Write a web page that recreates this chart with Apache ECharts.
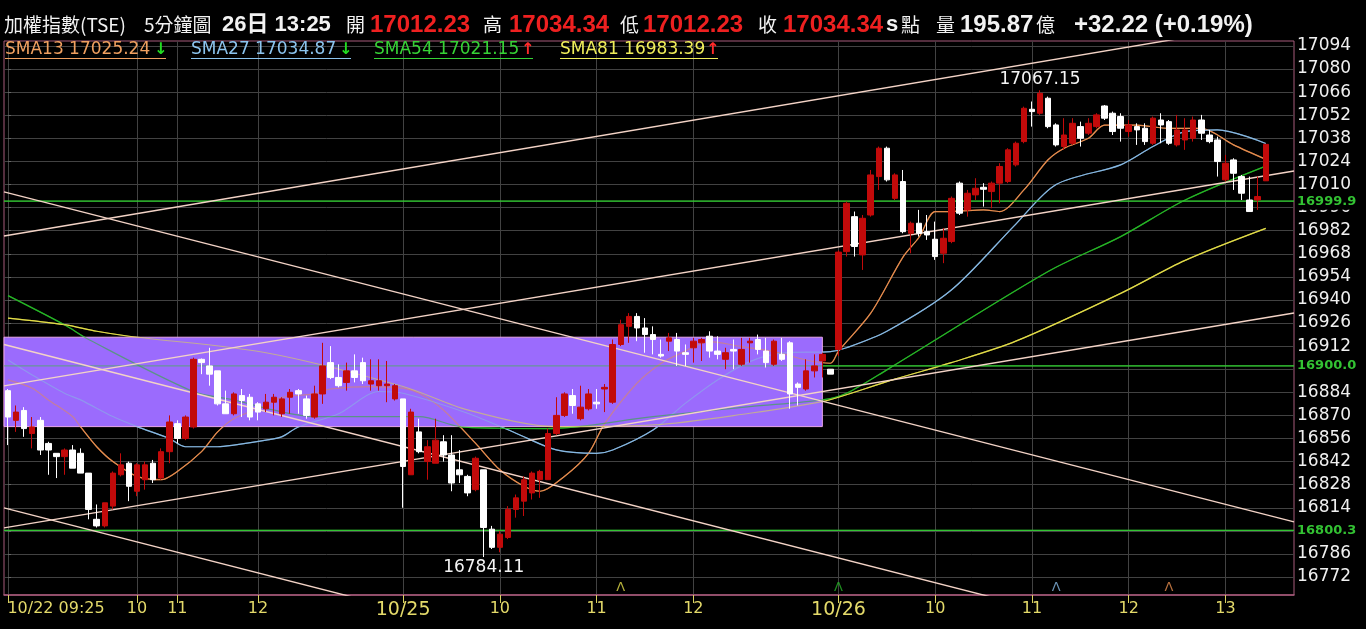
<!DOCTYPE html>
<html><head><meta charset="utf-8">
<script src="https://cdn.jsdelivr.net/npm/echarts@6/dist/echarts.min.js"></script>
<style>html,body{margin:0;padding:0;background:#000;}#c{width:1366px;height:629px;}</style>
</head><body><div id="c"></div>
<script>
// ---------- data ----------
const sessions = [['10/22', '09:25', 49], ['10/25', '09:00', 54], ['10/26', '09:00', 54]];
const padBars = 3;
const categories = [];
sessions.forEach(([d, t, n]) => {
  let [h, m] = t.split(':').map(Number);
  for (let k = 0; k < n; k++) {
    categories.push(d + ' ' + String(h).padStart(2, '0') + ':' + String(m).padStart(2, '0'));
    m += 5; if (m >= 60) { m -= 60; h += 1; }
  }
});
for (let k = 0; k < padBars; k++) categories.push('');

const opens = [16885,16867,16873,16859,16867,16853,16847,16845,16849,16847,16835,16807,16803,16815,16834,16841,16824,16831,16841,16832,16848,16865,16856,16863,16904,16900,16897,16877,16871,16882,16881,16877,16874,16878,16871,16881,16885,16880,16869,16883,16902,16893,16890,16897,16902,16889,16888,16888,16880,
16880,16834,16860,16842,16841,16854,16846,16837,16833,16825,16837,16801,16790,16796,16813,16818,16823,16831,16831,16859,16870,16882,16868,16874,16878,16886,16878,16913,16924,16930,16923,16919,16907,16915,16916,16908,16911,16914,16918,16909,16904,16910,16901,16914,16916,16909,16901,16907,16914,16889,16886,16897,16903,16898,
16910,16969.3,16990.5,16967.3,16991.5,17014.8,17032,17001.6,17011.8,16980.4,16986.5,16981.4,16976.8,16968.3,16975.4,17010.8,16994.6,17003.7,17008.3,17005.7,17010.8,17011.8,17021.9,17036,17055.6,17053.2,17062.3,17046.1,17033,17035,17045.1,17041.1,17045.1,17057.6,17053.2,17051.2,17042.1,17045.1,17044.1,17035,17049.1,17048.1,17034,17037,17038,17049.1,17040,17037,17012.8,17024.9,17014.8,17000.6,17000.6,17012.23];
const closes = [16869,16872,16862,16863,16849,16849,16845,16849,16838,16835,16813,16803,16817,16835,16840,16827,16840,16840,16831,16848,16866,16856,16869,16904,16902,16895,16877,16871,16883,16879,16869,16872,16878,16881,16880,16884,16883,16870,16883,16900,16893,16888,16897,16893,16891,16891,16891,16889,16888,
16839,16872,16848,16851,16855,16846,16829,16834,16823,16844,16802,16790,16798,16813,16820,16831,16835,16836,16859,16870,16883,16876,16875,16883,16877,16887,16913,16925,16930,16923,16919,16916,16906,16917,16909,16907,16915,16916,16909,16907,16908,16909,16910,16915,16910,16902,16915,16904,16883,16887,16897,16900,16907,16895,
16969,16998.6,16972.4,16989.5,17015.8,17032,17012.8,17015.8,16981.4,16986.5,16980.4,16979.4,16966.3,16977.4,17001.6,16992.6,17004.7,17007.7,17007.1,17010.8,17020.9,17031,17035,17056.2,17054.2,17065.3,17045.1,17034,17040,17047.1,17038,17047.1,17052.2,17050.2,17042.1,17044.1,17046.1,17043.1,17036,17050.2,17046.1,17035,17043.1,17043.1,17049.1,17041.1,17036,17023.9,17022.9,17016.8,17004.7,16993.6,17002.7,17034.34];
const lows = [16852,16860,16857,16850,16846,16834,16832,16834,16838,16835,16807,16802,16802,16813,16833,16818,16821,16825,16829,16831,16841,16853,16855,16862,16895,16888,16876,16871,16870,16869,16867,16867,16872,16870,16869,16871,16871,16868,16868,16877,16892,16887,16885,16890,16889,16885,16885,16878,16879,
16814,16834,16847,16831,16841,16842,16824,16829,16821,16824,16784.11,16789,16787,16795,16808,16809,16819,16820,16831,16858,16869,16871,16867,16873,16874,16872,16877,16912,16914,16915,16908,16907,16905,16909,16900,16900,16902,16903,16905,16904,16898,16898,16900,16902,16907,16899,16900,16903,16874,16876,16885,16893,16893,16895,
16906,16966.3,16966.3,16958.2,16990.5,17006.7,17011.8,17000.6,16980.4,16968.3,16978.4,16976.4,16964.3,16962.3,16974.4,16991.5,16990.5,17000.6,16996.6,16995.6,16998.6,17010.8,17020.9,17035,17045.1,17052.2,17044.1,17033,17031,17034,17033,17040,17044.1,17049.1,17040,17036,17039,17034,17034,17034,17035,17034,17033,17031,17036,17037,17035,17014.8,17011.8,17006.7,17000.6,16993.6,16994.6,17012.23];
const highs = [16886,16876,16875,16869,16869,16854,16847,16850,16852,16850,16835,16816,16817,16836,16847,16842,16841,16842,16843,16850,16870,16867,16870,16905,16904.5,16911,16897,16885,16884,16886,16883,16878,16883,16883,16881,16886,16886,16882,16888,16914,16912,16901,16902,16907,16905,16904,16904,16903,16889,
16880,16874,16868,16855,16868,16858,16858,16849,16834,16845,16837,16803,16800,16815,16822,16833,16836,16837,16862,16881,16884,16886,16888,16886,16886,16889,16916,16928,16932,16932,16929,16924,16916,16920,16920,16913,16917,16917,16921,16918,16911,16916,16917,16917,16919,16917,16916,16917,16915,16890,16904,16907,16908,16898,
16970,16999.6,16993.6,16991.5,17018.8,17033,17033,17016.8,17018.8,16987.5,16994.6,16991.5,16987.5,16983.5,17002.7,17011.8,17006.7,17013.8,17010.8,17011.8,17022.9,17032,17036,17057.2,17060.3,17067.15,17063.3,17047.1,17050.2,17050.2,17048.1,17050.2,17053.2,17058.2,17054.2,17053.2,17049.1,17047.1,17047.1,17051.2,17053.2,17049.1,17052.2,17050.2,17051.2,17052.2,17043.1,17039,17027.9,17025.9,17015.8,17014.8,17014.8,17034.34];

// moving averages: [bar index, value]
const sma13 = [[0,16891.5],[3,16886.5],[5,16879.4],[8,16869.3],[9,16863],[11,16851],[13,16842],[16,16833],[19,16831],[21,16836],[24,16848],[26,16860],[28,16868],[32,16876],[34,16881],[38,16883],[40,16886],[45,16887.5],[49,16886.5],[51,16883.4],[54,16873.3],[58,16853],[61,16837],[64,16827],[66,16824],[69,16833],[72,16847],[74,16865],[78,16889.5],[81,16901.6],[83,16906.6],[87,16914.7],[91,16911.7],[95,16908.7],[99,16903.6],[102,16901.6],[103,16909],[107,16932],[111,16966],[113,16978],[115,16993.6],[117,16993.6],[121,16994.6],[123,16993.6],[126,17006.7],[129,17025],[131,17032],[134,17038],[136,17046],[140,17046],[144,17044],[148,17044],[152,17034],[156,17025.24]];
const sma27 = [[0,16903.6],[3,16894.5],[7,16883.4],[9,16879.4],[13,16869.3],[16,16863.2],[20,16856],[22,16851],[26,16851],[28,16852],[32,16855],[34,16857.1],[36,16863],[41,16871],[46,16884.5],[49,16883.4],[57,16871.3],[63,16859.2],[68,16849.1],[73,16847],[75,16849],[80,16861.2],[84,16877.3],[88,16891.5],[92,16902.6],[96,16907.7],[102,16908.7],[104,16911],[109,16921],[117,16946],[125,16986],[130,17010],[138,17021.9],[142,17033],[146,17042.1],[150,17043.1],[156,17034.87]];
const sma54 = [[0,16942.6],[7,16924.9],[10,16916],[23,16884.4],[28,16879.4],[32,16874.3],[38,16869.2],[51,16869.2],[56,16863.2],[61,16862.2],[67,16862],[80,16869.3],[92,16875.3],[101,16879.4],[104,16883.4],[109,16897.6],[129,16957.2],[138,16978.4],[146,17000.6],[156,17021.15]];
const sma81 = [[0,16929],[7,16925],[11,16921],[15,16918],[32,16908],[49,16887.5],[57,16873.3],[68,16863.2],[80,16864.2],[92,16871.3],[101,16878.4],[103,16881],[110,16892],[117,16902],[125,16915],[138,16944],[146,16964],[156,16983.39]];

const maNames = ['SMA13', 'SMA27', 'SMA54', 'SMA81'];
const maColors = ['#e58c4e', '#86b8e2', '#26b526', '#e2dc48'];
const maLegendColors = ['#f0a060', '#8cc4ee', '#36d336', '#f0ee5a'];
const maLastText = ['17025.24', '17034.87', '17021.15', '16983.39'];
const maTrendUp = [false, false, true, true];
const maWindowStart = [144, 130, 103, 76];

// price zone (purple box): [from bar, to bar, low, high]
const zone = [[-0.5, 101, 16863.2, 16917.4]];
// key horizontal levels
const levels = [16999.9, 16900.0, 16800.3];
// trend lines: [bar0, value0, bar1, value1]
const trendLines = [
  [-0.5, 16978.8, 159.5, 17110.2],
  [-0.5, 16887.9, 159.5, 17018.2],
  [-0.5, 16801.8, 159.5, 16932.1],
  [-0.5, 17005.5, 159.5, 16805.4],
  [-0.5, 16913.0, 159.5, 16712.9],
  [-0.5, 16813.9, 159.5, 16613.8]
];
const highMark = [128, 17067.15];
const lowMark = [59, 16784.11];

const xTickIdx = [0, 16, 21, 31, 49, 61, 73, 85, 103, 115, 127, 139, 151];
const xTickText = ['10/22 09:25', '10', '11', '12', '10/25', '10', '11', '12', '10/26', '10', '11', '12', '13'];
const yTicks = [16772,16786,16800,16814,16828,16842,16856,16870,16884,16898,16912,16926,16940,16954,16968,16982,16996,17010,17024,17038,17052,17066,17080,17094];

// ---------- chart ----------
const chart = echarts.init(document.getElementById('c'));
const candleData = opens.map((o, i) => [o, closes[i], lows[i], highs[i]]);
const maData = [sma13, sma27, sma54, sma81];

const series = [];
// MA lines under the zone
maData.forEach((d, k) => series.push({
  type: 'line', name: maNames[k] + '_u', xAxisIndex: 1, yAxisIndex: 0, data: d, showSymbol: false, smooth: 0.3,
  lineStyle: { color: maColors[k], width: 1.2 }, z: 1, silent: true
}));
levels.forEach(v => series.push({
  type: 'line', xAxisIndex: 1, data: [[-0.5, v], [159.5, v]], showSymbol: false,
  lineStyle: { color: '#33c433', width: 1.3 }, z: 1, silent: true
}));
// zone box
series.push({
  type: 'custom', xAxisIndex: 1, yAxisIndex: 0, data: zone, z: 2, silent: true,
  encode: { x: [0, 1], y: [2, 3] },
  renderItem: (params, api) => {
    const p0 = api.coord([api.value(0), api.value(3)]);
    const p1 = api.coord([api.value(1), api.value(2)]);
    return { type: 'rect', shape: { x: p0[0], y: p0[1], width: p1[0] - p0[0], height: p1[1] - p0[1] },
      style: { fill: '#9b6bfd', stroke: '#eaa6ee', lineWidth: 1 } };
  }
});
// MA lines and levels blended over the zone
maData.forEach((d, k) => series.push({
  type: 'line', name: maNames[k], xAxisIndex: 1, yAxisIndex: 0, data: d, showSymbol: false, smooth: 0.3,
  lineStyle: { color: maColors[k], width: 1.2, opacity: 0.55 }, z: 3, silent: true
}));
levels.forEach((v, k) => series.push({
  type: 'line', xAxisIndex: 1, data: [[-0.5, v], [159.5, v]], showSymbol: false,
  lineStyle: { color: '#33c433', width: 1.3, opacity: 0.5 }, z: 3, silent: true,
  markLine: k === 0 ? {
    silent: true, symbol: 'none', animation: false,
    lineStyle: { color: 'rgba(0,0,0,0)', width: 0 },
    label: { show: true, position: 'end', distance: 2, color: '#33c233', fontSize: 13, fontWeight: 'bold',
      fontFamily: 'DejaVu Sans', backgroundColor: '#000', padding: [2, 1, 2, 1],
      formatter: p => Number(p.value).toFixed(1) },
    data: levels.map(l => ({ yAxis: l }))
  } : undefined
}));
// trend lines
trendLines.forEach(t => series.push({
  type: 'line', xAxisIndex: 1, data: [[t[0], t[1]], [t[2], t[3]]], showSymbol: false,
  lineStyle: { color: '#f3d3c6', width: 1.4 }, z: 4, silent: true, clip: true
}));
// candles
series.push({
  type: 'candlestick', xAxisIndex: 0, yAxisIndex: 0, data: candleData, barWidth: 6, z: 5,
  itemStyle: { color: '#c20a0a', color0: '#ffffff', borderColor: '#c20a0a', borderColor0: '#ffffff', borderWidth: 1 },
  markPoint: {
    symbol: 'circle', symbolSize: 0, animation: false, silent: true,
    label: { show: true, color: '#f4f4f4', fontSize: 17, fontFamily: 'DejaVu Sans', formatter: p => Number(p.value).toFixed(2) },
    data: [
      { coord: [highMark[0], highMark[1]], value: highMark[1], label: { position: 'top', distance: 2 } },
      { coord: [lowMark[0], lowMark[1]], value: lowMark[1], label: { position: 'bottom', distance: 2 } }
    ]
  }
});
// MA window start markers
series.push({
  type: 'scatter', xAxisIndex: 1, yAxisIndex: 0, symbolSize: 0, z: 6, silent: true,
  label: { show: true, position: 'inside', formatter: 'Λ', fontSize: 13, fontFamily: 'DejaVu Sans' },
  data: maWindowStart.map((b, k) => ({ value: [b, 16765.5], label: { color: maColors[k] } }))
});

// header & legend as graphic text
const W = '#f2f2f2', R = '#ee2020';
const CJK = '19px "Noto Sans CJK TC"';
const NUM = 'bold 24px "Liberation Sans", "Noto Sans CJK TC"';
const header = [
  [4, '加權指數(TSE)', W, CJK], [144, '5分鐘圖', W, CJK], [222, '26日 13:25', W, 'bold 22px "Liberation Sans", "Noto Sans CJK TC"'],
  [346, '開', W, CJK], [370, '17012.23', R, NUM], [483, '高', W, CJK], [509, '17034.34', R, NUM],
  [620, '低', W, CJK], [643, '17012.23', R, NUM], [758, '收', W, CJK], [783, '17034.34', R, NUM],
  [886, 's', W, 'bold 22px "Liberation Sans"'], [901, '點', W, CJK], [936, '量', W, CJK],
  [960, '195.87', W, NUM], [1036, '億', W, CJK], [1074, '+32.22 (+0.19%)', W, NUM]
];
const graphics = header.map(([x, t, c, f]) => ({
  type: 'text', x: x, y: 25, silent: true, z: 10,
  style: { text: t, fill: c, font: f, verticalAlign: 'middle' }
}));
const legendX = [5, 191, 374, 560];
const legendEnd = [166, 351, 533, 718];
maNames.forEach((n, k) => {
  graphics.push({ type: 'text', x: legendX[k], y: 50, silent: true, z: 10,
    style: { text: n + ' ' + maLastText[k], fill: maLegendColors[k], font: '17px "DejaVu Sans"', verticalAlign: 'middle' } });
  graphics.push({ type: 'text', x: legendEnd[k] - 12, y: 50, silent: true, z: 10,
    style: { text: maTrendUp[k] ? '↑' : '↓', fill: maTrendUp[k] ? '#ff2a2a' : '#22dd22', font: 'bold 16px "DejaVu Sans"', verticalAlign: 'middle' } });
  graphics.push({ type: 'line', silent: true, z: 10,
    shape: { x1: legendX[k], y1: 58.5, x2: legendEnd[k], y2: 58.5 }, style: { stroke: maLegendColors[k], lineWidth: 1 } });
});

const labelMap = {};
xTickIdx.forEach((v, k) => labelMap[v] = xTickText[k]);

chart.setOption({
  backgroundColor: '#000',
  animation: false,
  grid: { left: 4, right: 72, top: 41, bottom: 34, show: true, borderColor: '#a65a7a', borderWidth: 1, backgroundColor: 'transparent' },
  xAxis: [
    { type: 'category', data: categories, boundaryGap: true, show: false },
    { type: 'value', min: -0.5, max: 159.5, position: 'bottom',
      axisLine: { show: true, onZero: false, lineStyle: { color: '#a65a7a', width: 1.5 } },
      axisTick: { show: true, customValues: xTickIdx, length: 8, lineStyle: { color: '#d8d060' } },
      axisLabel: { show: true, customValues: xTickIdx, color: '#e4da6a', fontSize: 16, fontFamily: 'DejaVu Sans', margin: 6,
        formatter: v => {
          const t = labelMap[Math.round(v)] || '';
          if (Math.round(v) === 0) return '{first|' + t + '}';
          if (t.indexOf('/') > 0) return '{date|' + t + '}';
          return t;
        },
        rich: { first: { fontSize: 16, fontFamily: 'DejaVu Sans', color: '#e4da6a', padding: [0, 0, 0, 96] },
                date: { fontSize: 19, fontFamily: 'DejaVu Sans', color: '#e4da6a' } } },
      splitLine: { show: true, lineStyle: { color: '#424242', width: 1 } } }
  ],
  yAxis: [{
    type: 'value', position: 'right', min: 16761.1, max: 17097, scale: true,
    axisLine: { show: false },
    axisTick: { show: true, customValues: yTicks, length: 3, lineStyle: { color: '#666' } },
    axisLabel: { show: true, customValues: yTicks, color: '#f0f0f0', fontSize: 17, fontFamily: 'DejaVu Sans', margin: 3,
      formatter: v => String(Math.round(v)) },
    splitLine: { show: true, lineStyle: { color: '#424242', width: 1 } }
  }],
  graphic: graphics,
  series: series
});
</script>
</body></html>
